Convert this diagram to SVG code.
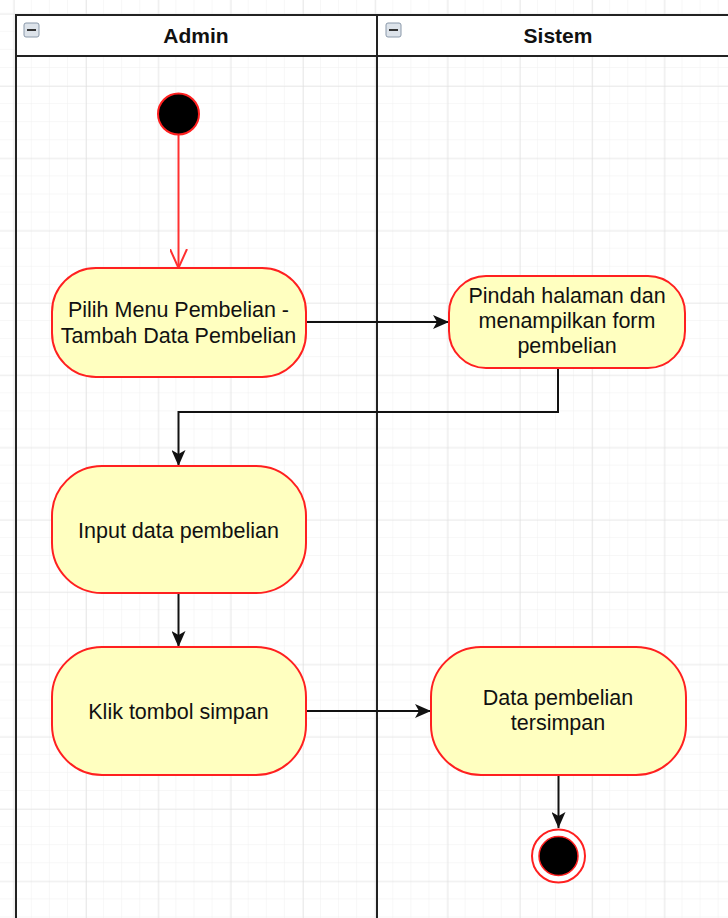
<svg xmlns="http://www.w3.org/2000/svg" width="728" height="918" viewBox="0 0 728 918">
<style>
.lane{fill:none;stroke:#222;stroke-width:2}
.node{fill:#FFFFC0;stroke:#FF2020;stroke-width:2}
.t{font-family:"Liberation Sans",Arial,sans-serif;font-size:21.5px;fill:#111;text-anchor:middle}
.h{font-family:"Liberation Sans",Arial,sans-serif;font-size:21px;font-weight:bold;fill:#111;text-anchor:middle}
.c{fill:none;stroke:#111;stroke-width:2}
</style>
<defs>
<pattern id="minor" x="13.7" y="13.7" width="18.075" height="18.075" patternUnits="userSpaceOnUse">
<path d="M18.075 0V18.075M0 18.075H18.075" fill="none" stroke="#f0f0f0" stroke-width="1"/>
</pattern>
<pattern id="major" x="13.7" y="13.7" width="72.3" height="72.3" patternUnits="userSpaceOnUse">
<path d="M0 0V72.3M0 0H72.3" fill="none" stroke="#dedede" stroke-width="1.2"/>
</pattern>
<marker id="blk" viewBox="0 0 16 14" refX="16" refY="7" markerWidth="16" markerHeight="14" markerUnits="userSpaceOnUse" orient="auto">
<path d="M0 0L16 7L0 14L4 7Z" fill="#111"/>
</marker>
<marker id="open" viewBox="0 0 20 18" refX="19" refY="9" markerWidth="20" markerHeight="18" markerUnits="userSpaceOnUse" orient="auto">
<path d="M0 0.5L19 9L0 17.5" fill="none" stroke="#FF3030" stroke-width="2"/>
</marker>
</defs>
<rect width="728" height="918" fill="#fff"/>
<rect width="728" height="918" fill="url(#minor)"/>
<rect width="728" height="918" fill="url(#major)"/>

<g id="lanes">
<rect x="16" y="15" width="723" height="920" fill="none" class="lane"/>
<rect x="17" y="16" width="721" height="40" fill="#fff"/>
<line x1="16" y1="15" x2="739" y2="15" class="lane"/>
<line x1="16" y1="56" x2="739" y2="56" class="lane"/>
<line x1="377" y1="15" x2="377" y2="930" class="lane"/>
<line x1="16" y1="15" x2="16" y2="930" class="lane"/>
<g id="lane-admin">
<rect x="24" y="23" width="15" height="14" rx="2" fill="#dde3ea" stroke="#8a99aa" stroke-width="1"/>
<rect x="27" y="29" width="9" height="2" fill="#333"/>
<text class="h" x="196" y="43">Admin</text>
</g>
<g id="lane-sistem">
<rect x="386" y="23" width="15" height="14" rx="2" fill="#dde3ea" stroke="#8a99aa" stroke-width="1"/>
<rect x="389" y="29" width="9" height="2" fill="#333"/>
<text class="h" x="558" y="43">Sistem</text>
</g>
</g>

<g id="connectors">
<line x1="178.5" y1="135" x2="178.5" y2="268" stroke="#FF3030" stroke-width="2" marker-end="url(#open)"/>
<line x1="306" y1="322" x2="449" y2="322" class="c" marker-end="url(#blk)"/>
<polyline points="558,368 558,412 178.5,412 178.5,466" class="c" marker-end="url(#blk)"/>
<line x1="178.5" y1="593" x2="178.5" y2="647" class="c" marker-end="url(#blk)"/>
<line x1="306" y1="711" x2="431" y2="711" class="c" marker-end="url(#blk)"/>
<line x1="558.5" y1="775" x2="558.5" y2="828" class="c" marker-end="url(#blk)"/>
</g>

<g id="start">
<circle cx="178.5" cy="114" r="20.5" fill="#000" stroke="#FF2020" stroke-width="2"/>
</g>

<g id="n1">
<rect x="52" y="268" width="254" height="109" rx="44" ry="44" class="node"/>
<text class="t" x="178.5" y="317">Pilih Menu Pembelian -</text>
<text class="t" x="178.5" y="343">Tambah Data Pembelian</text>
</g>

<g id="n2">
<rect x="449" y="276" width="236" height="92" rx="37" ry="37" class="node"/>
<text class="t" x="567" y="303">Pindah halaman dan</text>
<text class="t" x="567" y="328">menampilkan form</text>
<text class="t" x="567" y="353">pembelian</text>
</g>

<g id="n3">
<rect x="52" y="466" width="254" height="127" rx="50" ry="50" class="node"/>
<text class="t" x="178.5" y="537.5">Input data pembelian</text>
</g>

<g id="n4">
<rect x="52" y="647" width="254" height="128" rx="50" ry="50" class="node"/>
<text class="t" x="178.5" y="718.5">Klik tombol simpan</text>
</g>

<g id="n5">
<rect x="431" y="647" width="255" height="128" rx="50" ry="50" class="node"/>
<text class="t" x="558" y="705">Data pembelian</text>
<text class="t" x="558" y="730">tersimpan</text>
</g>

<g id="end">
<circle cx="558.5" cy="856" r="26.5" fill="#fff" stroke="#FF2020" stroke-width="2"/>
<circle cx="558.5" cy="856" r="19.5" fill="#000" stroke="#FF2020" stroke-width="1.5"/>
</g>
</svg>
